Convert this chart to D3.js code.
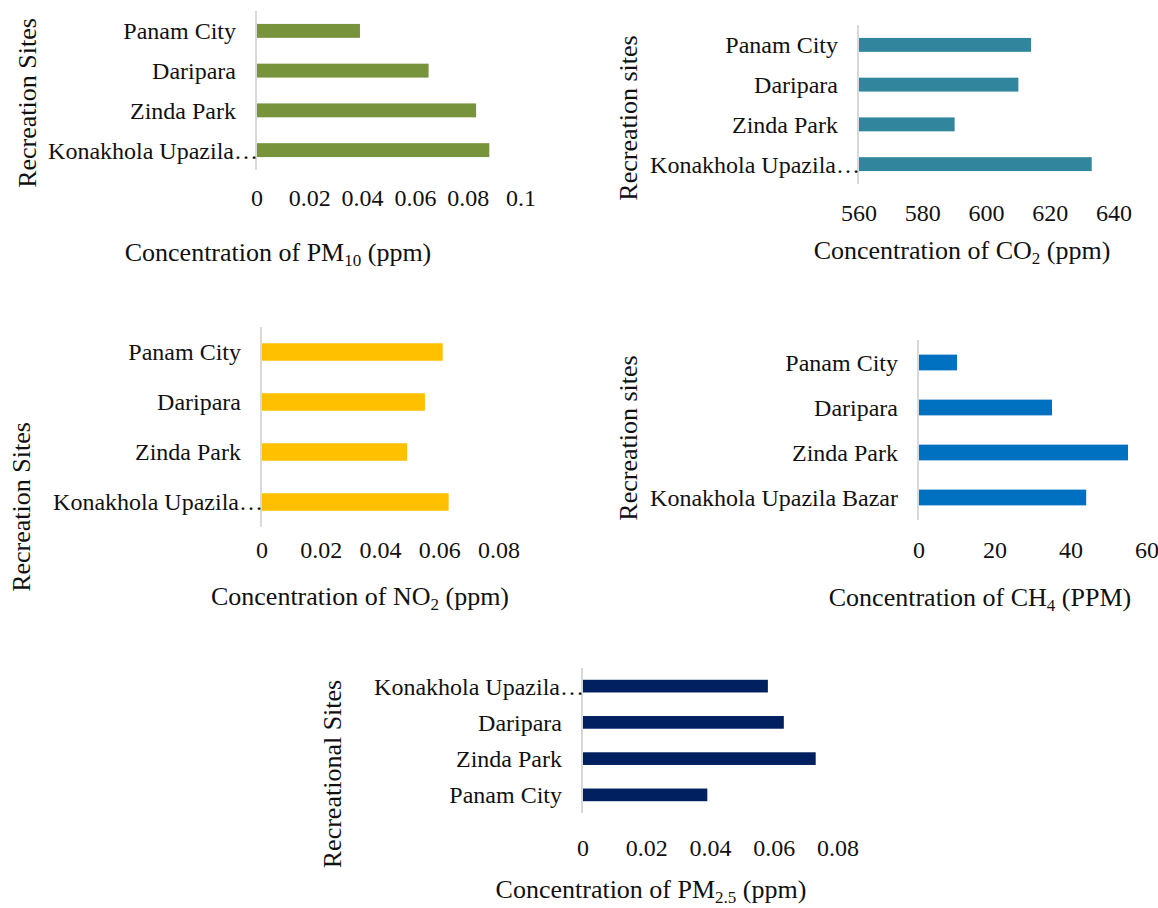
<!DOCTYPE html>
<html>
<head>
<meta charset="utf-8">
<script src="https://cdn.jsdelivr.net/npm/d3@7"></script>
<style>
  html, body { margin: 0; padding: 0; background: #fff; }
  svg { display: block; }
  svg text { font-family: "Liberation Serif", "Times New Roman", serif; }
</style>
</head>
<body>
<svg id="chart" width="1158" height="908"></svg>
<script>
// Recreation sites (top-to-bottom order as drawn)
const sites = ["Panam City", "Daripara", "Zinda Park", "Konakhola Upazila Bazar"];
const sitesPM25 = ["Konakhola Upazila Bazar", "Daripara", "Zinda Park", "Panam City"];

// Measured concentrations
const pm10Values = [0.039, 0.065, 0.083, 0.088];
const co2Values = [614, 610, 590, 633];
const no2Values = [0.061, 0.055, 0.049, 0.063];
const ch4Values = [10, 35, 55, 44];
const pm25Values = [0.058, 0.063, 0.073, 0.039];

// Value-axis ticks
const pm10Ticks = [0, 0.02, 0.04, 0.06, 0.08, 0.1];
const co2Ticks = [560, 580, 600, 620, 640];
const no2Ticks = [0, 0.02, 0.04, 0.06, 0.08];
const ch4Ticks = [0, 20, 40, 60];
const pm25Ticks = [0, 0.02, 0.04, 0.06, 0.08];

const FONT = "'Liberation Serif', 'Times New Roman', serif";
const svg = d3.select("#chart");

const panels = [
  {
    cats: sites, values: pm10Values, ticks: pm10Ticks, domain: [0, 0.1],
    color: "#77933C", xRange: [257, 521], yRange: [11, 170], tickY: 198,
    maxLabel: 217, yTitle: "Recreation Sites", yTitlePos: [27, 103],
    xTitle: ["Concentration of PM", "10", " (ppm)"], xTitlePos: [278, 252]
  },
  {
    cats: sites, values: co2Values, ticks: co2Ticks, domain: [560, 640],
    color: "#31859C", xRange: [859, 1114], yRange: [25, 184], tickY: 213,
    maxLabel: 217, yTitle: "Recreation sites", yTitlePos: [628, 118],
    xTitle: ["Concentration of CO", "2", " (ppm)"], xTitlePos: [962, 250]
  },
  {
    cats: sites, values: no2Values, ticks: no2Ticks, domain: [0, 0.08],
    color: "#FFC000", xRange: [262, 499], yRange: [327, 527], tickY: 550,
    maxLabel: 217, yTitle: "Recreation Sites", yTitlePos: [21, 507],
    xTitle: ["Concentration of NO", "2", " (ppm)"], xTitlePos: [360, 596]
  },
  {
    cats: sites, values: ch4Values, ticks: ch4Ticks, domain: [0, 60],
    color: "#0070C0", xRange: [919, 1147], yRange: [340, 520], tickY: 550,
    maxLabel: 300, yTitle: "Recreation sites", yTitlePos: [628, 438],
    xTitle: ["Concentration of CH", "4", " (PPM)"], xTitlePos: [980, 597]
  },
  {
    cats: sitesPM25, values: pm25Values, ticks: pm25Ticks, domain: [0, 0.08],
    color: "#002060", xRange: [583, 838], yRange: [668, 813], tickY: 848,
    maxLabel: 217, yTitle: "Recreational Sites", yTitlePos: [332, 774],
    xTitle: ["Concentration of PM", "2.5", " (ppm)"], xTitlePos: [651, 889]
  }
];

const tickFmt = v => String(+v.toFixed(4));

panels.forEach(p => {
  const g = svg.append("g");
  const x = d3.scaleLinear().domain(p.domain).range(p.xRange);
  const y = d3.scaleBand().domain(p.cats).range(p.yRange).paddingInner(0.65).paddingOuter(0.325);
  const x0 = p.xRange[0] - 1;

  // bars
  g.selectAll("rect.bar")
    .data(p.cats.map((c, i) => ({ cat: c, value: p.values[i] })))
    .join("rect")
    .attr("class", "bar")
    .attr("x", x(p.domain[0]))
    .attr("y", d => y(d.cat))
    .attr("width", d => x(d.value) - x(p.domain[0]))
    .attr("height", y.bandwidth())
    .attr("fill", p.color);

  // category axis line
  g.append("line")
    .attr("x1", x0).attr("x2", x0)
    .attr("y1", p.yRange[0]).attr("y2", p.yRange[1])
    .attr("stroke", "#d9d9d9").attr("stroke-width", 2);

  // category labels (ellipsis when too wide)
  g.selectAll("text.cat")
    .data(p.cats)
    .join("text")
    .attr("class", "cat")
    .attr("font-family", FONT)
    .attr("y", d => y(d) + y.bandwidth() / 2)
    .attr("dy", "0.35em")
    .attr("font-size", 24)
    .attr("fill", "#111")
    .attr("text-anchor", "end")
    .text(d => d)
    .each(function (d) {
      const t = d3.select(this);
      let s = d;
      let truncated = false;
      while (this.getComputedTextLength() > p.maxLabel && s.length > 1) {
        s = s.slice(0, -1).trimEnd();
        t.text(s + "\u2026");
        truncated = true;
      }
      t.attr("x", truncated ? x0 + 2 : x0 - 20);
    });

  // value tick labels
  g.selectAll("text.tick")
    .data(p.ticks)
    .join("text")
    .attr("class", "tick")
    .attr("font-family", FONT)
    .attr("x", d => x(d))
    .attr("y", p.tickY)
    .attr("dy", "0.35em")
    .attr("text-anchor", "middle")
    .attr("font-size", 24)
    .attr("fill", "#111")
    .text(tickFmt);

  // value axis title with subscript
  const xt = g.append("text")
    .attr("font-family", FONT)
    .attr("x", p.xTitlePos[0])
    .attr("y", p.xTitlePos[1])
    .attr("dy", "0.35em")
    .attr("text-anchor", "middle")
    .attr("font-size", 26)
    .attr("fill", "#111");
  xt.append("tspan").text(p.xTitle[0]);
  xt.append("tspan").attr("font-size", 17).attr("dy", 5).text(p.xTitle[1]);
  xt.append("tspan").attr("dy", -5).text(p.xTitle[2]);

  // category axis title
  g.append("text")
    .attr("font-family", FONT)
    .attr("transform", `translate(${p.yTitlePos[0]},${p.yTitlePos[1]}) rotate(-90)`)
    .attr("dy", "0.35em")
    .attr("text-anchor", "middle")
    .attr("font-size", 26)
    .attr("fill", "#111")
    .text(p.yTitle);
});
</script>
</body>
</html>
